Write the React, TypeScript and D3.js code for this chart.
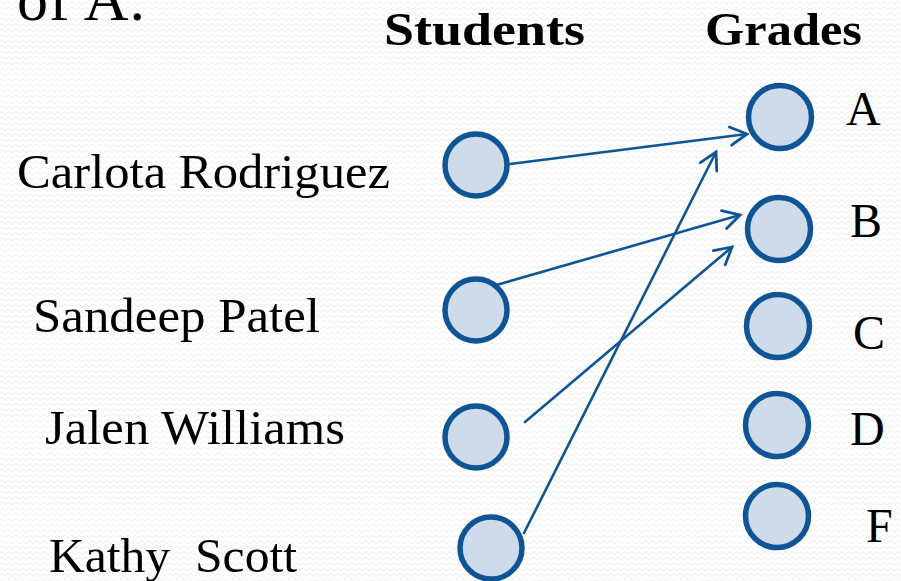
import React, { useEffect, useRef } from 'react';
import * as d3 from 'd3';

const students = ['Carlota Rodriguez', 'Sandeep Patel', 'Jalen Williams', 'Kathy  Scott'];
const grades = ['A', 'B', 'C', 'D', 'F'];
// which grade each student got
const assigned = ['A', 'B', 'B', 'A'];

// layout
const studentRowY = [165, 310, 437, 548];
const studentColX = [476, 476, 476, 491];
const studentLabelX = [17, 33, 45, 49];
const studentLabelW = [373, 287, 300, 248];
const gradeRowY = [117, 229, 326, 425, 516];
const gradeColX = [780, 779, 778, 777, 777];
const gradeLabelX = [846, 850, 853, 850, 866];
// arrow ends relative to circle centres
const arrowStart = [[34, -1], [17, -24], [49, -15], [33, -15]];
const arrowEnd = [[-33, 17], [-39, -14], [-47, 18], [-64, 35]];

const W = 901;
const H = 581;
const BLUE = '#0f5495';
const FILL = '#cedbeb';
const SERIF = '"Liberation Serif", "DejaVu Serif", serif';

const MappingDiagram: React.FC = () => {
  const svgRef = useRef<SVGSVGElement>(null);

  useEffect(() => {
    if (!svgRef.current) return;
    const svg = d3.select(svgRef.current);
    svg.selectAll('*').remove();

    const sy = d3.scaleOrdinal<string, number>().domain(students).range(studentRowY);
    const sx = d3.scaleOrdinal<string, number>().domain(students).range(studentColX);
    const gy = d3.scaleOrdinal<string, number>().domain(grades).range(gradeRowY);
    const gx = d3.scaleOrdinal<string, number>().domain(grades).range(gradeColX);

    // faint wavy background
    const defs = svg.append('defs');
    const pat = defs.append('pattern')
      .attr('id', 'wave')
      .attr('width', 7)
      .attr('height', 5.5)
      .attr('patternUnits', 'userSpaceOnUse');
    pat.append('path')
      .attr('d', 'M0 3 Q1.75 0.8 3.5 3 T7 3')
      .attr('fill', 'none')
      .attr('stroke', '#ececec')
      .attr('stroke-width', 1);

    svg.append('rect').attr('width', W).attr('height', H).attr('fill', '#fff');
    svg.append('rect').attr('width', W).attr('height', H).attr('fill', 'url(#wave)');

    // title fragment at top (cut off in the slide too)
    svg.append('text')
      .attr('x', 17).attr('y', 20)
      .attr('font-family', SERIF)
      .attr('font-size', 62)
      .attr('fill', '#000')
      .attr('textLength', 128)
      .text('of A.');

    const heads = [
      { t: 'Students', x: 384, w: 201 },
      { t: 'Grades', x: 705, w: 157 },
    ];
    svg.append('g').selectAll('text').data(heads).enter().append('text')
      .attr('x', d => d.x).attr('y', 45)
      .attr('font-family', SERIF)
      .attr('font-weight', 'bold')
      .attr('font-size', 47)
      .attr('textLength', d => d.w)
      .attr('lengthAdjust', 'spacingAndGlyphs')
      .text(d => d.t);

    const labelBase = [188, 332, 444, 572];
    svg.append('g').selectAll('text').data(students).enter().append('text')
      .attr('x', (_, i) => studentLabelX[i])
      .attr('y', (_, i) => labelBase[i])
      .attr('font-family', SERIF)
      .attr('font-size', 48)
      .attr('textLength', (_, i) => studentLabelW[i])
      .attr('lengthAdjust', 'spacingAndGlyphs')
      .attr('xml:space', 'preserve')
      .style('white-space', 'pre')
      .text(d => d);

    const gradeBase = [125, 237, 349, 445, 542];
    svg.append('g').selectAll('text').data(grades).enter().append('text')
      .attr('x', (_, i) => gradeLabelX[i])
      .attr('y', (_, i) => gradeBase[i])
      .attr('font-family', SERIF)
      .attr('font-size', 48)
      .text(d => d);

    // arrows
    const arrows = students.map((s, i) => {
      const g = assigned[i];
      const x1 = sx(s) + arrowStart[i][0];
      const y1 = sy(s) + arrowStart[i][1];
      const x2 = gx(g) + arrowEnd[i][0];
      const y2 = gy(g) + arrowEnd[i][1];
      return { x1, y1, x2, y2 };
    });

    const ag = svg.append('g').attr('stroke', BLUE).attr('fill', 'none').attr('stroke-linecap', 'round');
    ag.selectAll('line').data(arrows).enter().append('line')
      .attr('x1', d => d.x1).attr('y1', d => d.y1)
      .attr('x2', d => d.x2).attr('y2', d => d.y2)
      .attr('stroke-width', 2.6);

    const headLen = 19;
    const spread = Math.PI / 6.2;
    ag.selectAll('path').data(arrows).enter().append('path')
      .attr('stroke-width', 2.8)
      .attr('stroke-linejoin', 'miter')
      .attr('d', d => {
        const a = Math.atan2(d.y2 - d.y1, d.x2 - d.x1);
        const p1 = [d.x2 - headLen * Math.cos(a - spread), d.y2 - headLen * Math.sin(a - spread)];
        const p2 = [d.x2 - headLen * Math.cos(a + spread), d.y2 - headLen * Math.sin(a + spread)];
        return `M ${p1[0]} ${p1[1]} L ${d.x2} ${d.y2} L ${p2[0]} ${p2[1]}`;
      });

    // circles
    const cg = svg.append('g').attr('fill', FILL).attr('stroke', BLUE).attr('stroke-width', 5.5);
    cg.selectAll('circle.s').data(students).enter().append('circle')
      .attr('class', 's')
      .attr('cx', d => sx(d)).attr('cy', d => sy(d)).attr('r', 31);
    cg.selectAll('circle.g').data(grades).enter().append('circle')
      .attr('class', 'g')
      .attr('cx', d => gx(d)).attr('cy', d => gy(d)).attr('r', 31.5);
  }, []);

  return (
    <div style={{ position: 'fixed', left: 0, top: 0, width: W, height: H, overflow: 'hidden' }}>
      <svg ref={svgRef} width={W} height={H} viewBox={`0 0 ${W} ${H}`} style={{ display: 'block' }} />
    </div>
  );
};

export default function App() {
  return <MappingDiagram />;
}
